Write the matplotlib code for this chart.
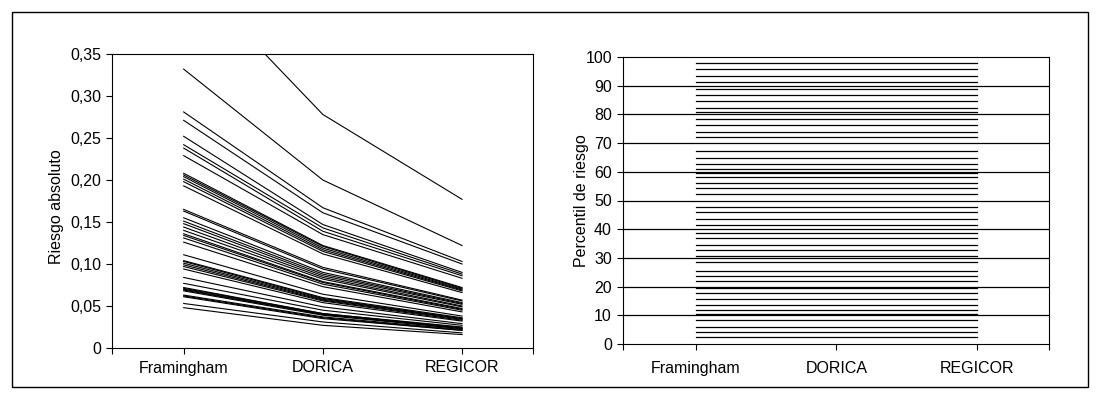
import matplotlib.pyplot as plt
from matplotlib.patches import Rectangle

plt.rcParams['font.family'] = ['Liberation Sans', 'DejaVu Sans']

# Escalas de riesgo comparadas
escalas = ['Framingham', 'DORICA', 'REGICOR']

# Riesgo absoluto de cada sujeto (una linea por sujeto)
riesgo_framingham = [0.451, 0.332, 0.281, 0.271, 0.252, 0.242, 0.238, 0.229,
                     0.208, 0.206, 0.204, 0.201, 0.198, 0.193, 0.165, 0.163,
                     0.155, 0.151, 0.148, 0.144, 0.140, 0.136, 0.134, 0.131,
                     0.126, 0.111, 0.104, 0.103, 0.101, 0.099, 0.097, 0.094,
                     0.084, 0.077, 0.072, 0.071, 0.070, 0.069, 0.068, 0.063,
                     0.062, 0.061, 0.053, 0.048]
riesgo_dorica = [0.278, 0.200, 0.167, 0.161, 0.147, 0.143, 0.139, 0.135,
                 0.122, 0.121, 0.119, 0.117, 0.115, 0.112, 0.096, 0.094,
                 0.090, 0.088, 0.086, 0.084, 0.082, 0.079, 0.078, 0.076,
                 0.073, 0.064, 0.060, 0.059, 0.058, 0.057, 0.056, 0.054,
                 0.049, 0.045, 0.041, 0.041, 0.040, 0.040, 0.039, 0.037,
                 0.036, 0.035, 0.031, 0.027]
riesgo_regicor = [0.177, 0.122, 0.103, 0.100, 0.090, 0.088, 0.086, 0.083,
                  0.072, 0.071, 0.070, 0.069, 0.068, 0.066, 0.057, 0.056,
                  0.054, 0.053, 0.052, 0.050, 0.049, 0.047, 0.046, 0.045,
                  0.043, 0.038, 0.036, 0.035, 0.035, 0.034, 0.033, 0.032,
                  0.029, 0.027, 0.025, 0.024, 0.024, 0.023, 0.023, 0.022,
                  0.021, 0.021, 0.018, 0.016]

# Percentil de riesgo (igual en las tres escalas)
percentiles = [97.8, 95.7, 93.4, 91.3, 89.0, 86.8, 84.5, 82.4, 80.9, 78.4,
               76.4, 74.0, 72.2, 67.4, 64.8, 62.7, 60.9, 59.7, 58.3, 56.2,
               54.3, 52.3, 47.7, 45.9, 43.4, 41.3, 38.8, 36.9, 34.6, 32.9,
               30.8, 28.6, 25.6, 23.6, 21.9, 19.5, 17.6, 15.6, 13.5,
               11.8, 10.4, 8.3, 6.0, 4.3, 2.5]

yticks_izq = [0, 0.05, 0.10, 0.15, 0.20, 0.25, 0.30, 0.35]
ylabels_izq = ['0', '0,05', '0,10', '0,15', '0,20', '0,25', '0,30', '0,35']
yticks_der = list(range(0, 101, 10))

fs = 11.5

fig = plt.figure(figsize=(10.99, 3.99), dpi=100)

# marco exterior
fig.patches.append(Rectangle((12 / 1099, 1 - 387 / 399), 1076 / 1099, 375 / 399,
                             transform=fig.transFigure, fill=False,
                             edgecolor='black', linewidth=1.0))

xmin, xmax = -0.515, 2.51
x = list(range(len(escalas)))


def preparar_eje(ax, pad_x=5):
    ax.set_xlim(xmin, xmax)
    ax.set_xticks([xmin] + x + [xmax])
    ax.set_xticklabels([''] + escalas + [''])
    ax.tick_params(axis='both', direction='out', length=4, width=0.8,
                   labelsize=fs, pad=4)
    ax.tick_params(axis='x', pad=pad_x)
    for s in ax.spines.values():
        s.set_linewidth(0.8)


# Panel izquierdo: riesgo absoluto
ax1 = fig.add_axes([112 / 1099, 1 - 348 / 399, 421 / 1099, 294 / 399])
for f, d, r in zip(riesgo_framingham, riesgo_dorica, riesgo_regicor):
    ax1.plot(x, [f, d, r], color='black', linewidth=0.8)
ax1.set_ylim(0, 0.35)
ax1.set_yticks(yticks_izq)
ax1.set_yticklabels(ylabels_izq)
preparar_eje(ax1)
ax1.set_ylabel('Riesgo absoluto', fontsize=fs)
ax1.yaxis.set_label_coords(-0.113, 0.48)

# Panel derecho: percentil de riesgo
ax2 = fig.add_axes([623 / 1099, 1 - 344 / 399, 426 / 1099, 287 / 399])
for yv in yticks_der[1:-1]:
    ax2.axhline(yv, color='black', linewidth=0.9, zorder=1)
for p in percentiles:
    ax2.plot(x, [p, p, p], color='black', linewidth=0.9)
ax2.set_ylim(0, 100)
ax2.set_yticks(yticks_der)
preparar_eje(ax2, pad_x=8)
ax2.set_ylabel('Percentil de riesgo', fontsize=fs)
ax2.yaxis.set_label_coords(-0.08, 0.5)

plt.savefig('out.png', dpi=100)
